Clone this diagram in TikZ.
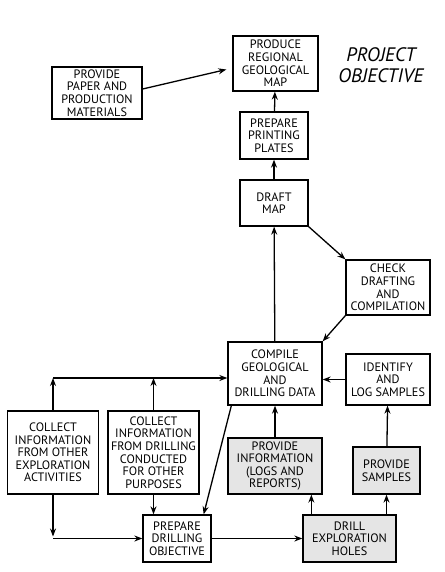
\documentclass[tikz,border=0pt]{standalone}
\usepackage{fontspec}
\setmainfont{PT Sans}
\usetikzlibrary{arrows.meta,calc}

\tikzset{
  box/.style={rectangle,draw,line width=1.3pt,align=center,inner sep=1pt,
    font=\fontsize{12.2}{12.6}\selectfont},
  greybox/.style={box,fill=black!10},
  >={Stealth[length=8pt,width=6pt]}
}

\begin{document}
\begin{tikzpicture}[x=1pt,y=-1pt,line width=1.3pt]
  \useasboundingbox (0,0) rectangle (444,572);

  \draw (275.5,63.5) node (prod) [box,minimum width=85,minimum height=55] {PRODUCE\\REGIONAL\\GEOLOGICAL\\MAP};
  \draw (97,93) node (paper) [box,minimum width=90,minimum height=52] {PROVIDE\\PAPER AND\\PRODUCTION\\MATERIALS};
  \draw (381,65) node (goal) [align=center,font=\fontsize{19.5}{21}\selectfont\itshape] {PROJECT\\OBJECTIVE};
  \draw (274,135.5) node (plates) [box,minimum width=68,minimum height=47] {PREPARE\\PRINTING\\PLATES};
  \draw (274,203) node (draft) [box,minimum width=68,minimum height=46] {DRAFT\\MAP};
  \draw (388,287.5) node (check) [box,minimum width=84,minimum height=55] {CHECK\\DRAFTING\\AND\\COMPILATION};
  \draw (275,373.5) node (compile) [box,minimum width=94,minimum height=63] {COMPILE\\GEOLOGICAL\\AND\\DRILLING DATA};
  \draw (388,379.5) node (identify) [box,minimum width=84,minimum height=51] {IDENTIFY\\AND\\LOG SAMPLES};
  \draw (53,452.5) node (colother) [box,minimum width=91,minimum height=83] {COLLECT\\INFORMATION\\FROM OTHER\\EXPLORATION\\ACTIVITIES};
  \draw (153.5,452.5) node (coldrill) [box,minimum width=91,minimum height=83] {COLLECT\\INFORMATION\\FROM DRILLING\\CONDUCTED\\FOR OTHER\\PURPOSES};
  \draw (275,466) node (info) [greybox,minimum width=94,minimum height=56] {PROVIDE\\INFORMATION\\(LOGS AND\\REPORTS)};
  \draw (386.5,470.5) node (samples) [greybox,minimum width=67,minimum height=47] {PROVIDE\\SAMPLES};
  \draw (177,538.5) node (prepdrill) [box,minimum width=68,minimum height=47] {PREPARE\\DRILLING\\OBJECTIVE};
  \draw (349.5,538.5) node (drill) [greybox,minimum width=93,minimum height=47] {DRILL\\EXPLORATION\\HOLES};

  \coordinate (busl) at (53,378);
  \coordinate (corner) at (53,538.5);
  \coordinate (dl) at ([xshift=9pt]drill.north west);

  % map production
  \draw [->] ([yshift=4pt]paper.east) to ($(prod.west)+(-6,6)$);
  \draw [->] (plates) to (prod);
  \draw [->] (draft) to (plates);
  \draw [->] (compile) to (draft);
  \draw [->] (draft.south east) to (check.north west);
  \draw [->] (check.south west) to (compile.north east);
  \draw [->] (identify.west) to (compile.east |- identify.west);

  % information gathering
  \draw [->] (busl) to (compile.west |- busl);
  \draw [->] (colother.north) to (busl);
  \draw [->] (coldrill.north) to (coldrill.north |- busl);
  \draw [->] (colother.south) to ([yshift=2pt]corner);
  \draw [->] (corner) to (prepdrill.west);
  \draw [->] (coldrill.south) to (coldrill.south |- prepdrill.north);
  \draw [->] ([xshift=4pt]compile.south west) to ([xshift=-8pt]prepdrill.north east);

  % drilling
  \draw [->] (prepdrill) to (drill);
  \draw [->] (dl) to (dl |- info.south);
  \draw [->] (info) to (compile);
  \draw [->] (samples.south |- drill.north) to (samples.south);
  \draw [->] (samples) to (identify);
\end{tikzpicture}
\end{document}
